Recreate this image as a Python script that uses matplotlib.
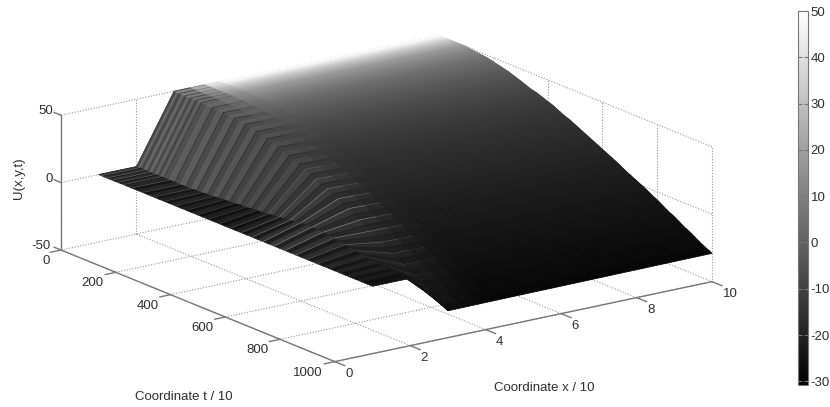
import numpy as np
import matplotlib
matplotlib.use('Agg')
import matplotlib.pyplot as plt
from matplotlib.cm import ScalarMappable
from matplotlib.colors import Normalize
from mpl_toolkits.mplot3d import proj3d

plt.rcParams['font.family'] = ['Liberation Sans', 'DejaVu Sans']
plt.rcParams['axes.unicode_minus'] = False

# rows of the surface
t_rows = [0, 10, 20, 30, 40, 50, 60, 70, 80, 90, 100,
          120, 140, 160, 180, 200, 220, 240, 260, 280, 300,
          320, 340, 360, 380, 400, 420, 440, 460, 480, 500,
          520, 540, 560, 580, 600, 620, 640, 660, 680, 700,
          720, 740, 760, 780, 800, 820, 840, 860, 880, 900,
          920, 940, 960, 980, 1000]

U_x1 = [0.0] * len(t_rows)
U_x2 = [0, 0, 0, 0, 0, 0, 0, 0, 0, 0, 0,
        0, 0, 0, 0, 0, 0.5, 0.5, 1, 1, 1.5,
        2, 2, 2.5, 3, 3, 3.5, 4, 4, 4.5, 5,
        5.5, 6, 6.5, 7, 8, 8, 8, 8, 7.5, 7,
        6.5, 6, 5, 4.5, 4, 3, 2.5, 2, 1.5, 1,
        0.5, 0.5, 0, 0, 0]
U_x3 = [50, 50, 50, 50, 50, 50, 50, 50, 50, 50, 50,
        49.5, 49.5, 49, 49, 48.5, 48, 47.5, 47, 46, 45,
        44, 43, 41.5, 40, 38.5, 37, 35.5, 34, 32, 30,
        28, 26, 24, 22, 20, 18, 16, 13.5, 11, 8.5,
        6, 3.5, 1, -1.5, -4, -6.5, -9, -11.5, -14, -16.5,
        -19, -22, -25, -27.5, -30]
U_x10 = [50, 50, 50, 50, 50, 50, 50, 50, 50, 50, 50,
         49.5, 49, 48.5, 48, 47, 46, 45, 44, 42.5, 41,
         39.5, 38, 37, 35.5, 34, 32.5, 30.5, 28.5, 27, 25,
         23, 21, 19, 17, 15, 13, 11, 9, 6.5, 4.5,
         2.5, 0.5, -1.5, -4, -6, -8.5, -11, -13, -15.5, -18,
         -20, -22.5, -25, -27, -29]

# grey levels of the picture, row by row
plain_gray = [255, 247, 236, 222, 208, 196, 185, 175, 166, 157, 149,
              137, 127, 118, 110, 103, 97, 91, 86, 81, 76,
              72, 68, 65, 61, 58, 55, 52, 50, 47, 45,
              43, 41, 39, 37, 35, 33, 31, 29, 28, 26,
              25, 23, 22, 20, 19, 17, 16, 14, 13, 11,
              10, 9, 8, 6, 5]
ramp_gray = [76, 92, 78, 96, 80, 98, 82, 94, 78, 94, 80,
             92, 76, 92, 74, 90, 72, 88, 70, 86, 68,
             82, 66, 80, 64, 76, 60, 72, 58, 68, 54,
             64, 50, 60, 46, 56, 44, 54, 42, 50, 40,
             46, 36, 42, 32, 38, 30, 34, 28, 30, 24,
             26, 20, 22, 16, 16]
floor_gray = [50, 28, 44, 24, 46, 26, 42, 22, 40, 24, 38,
              22, 38, 20, 36, 22, 34, 18, 36, 20, 32,
              18, 34, 16, 30, 18, 32, 16, 30, 18, 34,
              22, 40, 26, 50, 30, 55, 32, 55, 30, 50,
              28, 45, 26, 40, 24, 38, 22, 34, 20, 30,
              18, 26, 14, 20, 12]
line_gray = [35, 130, 40, 125, 45, 120, 40, 115, 35, 110, 40,
             105, 35, 100, 32, 95, 30, 90, 30, 85, 28,
             80, 28, 75, 26, 72, 25, 80, 25, 100, 24,
             120, 22, 140, 24, 160, 22, 170, 22, 160, 20,
             140, 24, 110, 22, 80, 20, 60, 20, 45, 20,
             35, 18, 28, 16, 20]

x_ticks = [0, 2, 4, 6, 8, 10]
t_ticks = [0, 200, 400, 600, 800, 1000]
z_ticks = [-50, 0, 50]
bar_ticks = [-30, -20, -10, 0, 10, 20, 30, 40, 50]

W, H = 830, 407
fig = plt.figure(figsize=(W / 100, H / 100), dpi=100)
ax = fig.add_axes([0, 0, H / W, 1], projection='3d', proj_type='ortho',
                  computed_zorder=False)
ax.view_init(elev=17.1, azim=-35.8)
# zoom < 1 keeps the whole box inside the axes, else it gets clipped
ax.set_box_aspect((468, 465, 141), zoom=0.6)
ax.set_xlim(0, 1000)
ax.set_ylim(0, 10)
ax.set_zlim(-50, 50)
ax.set_axis_off()


def to_pixels(t, x, z):
    vx, vy, _ = proj3d.proj_transform(t, x, z, ax.get_proj())
    return ax.transData.transform((vx, vy))


# fit the box to the picture: corner t=0,x=0 and corner t=1000,x=10 of the floor
goal_a = np.array([61.0, H - 250.0])
goal_c = np.array([712.0, H - 282.0])
p_a = to_pixels(0, 0, -50)
p_c = to_pixels(1000, 10, -50)
side = H * np.linalg.norm(goal_c - goal_a) / np.linalg.norm(p_c - p_a)
ax.set_position([0, 0, side / W, side / H])
p_a = to_pixels(0, 0, -50)
ax.set_position([(goal_a[0] - p_a[0]) / W, (goal_a[1] - p_a[1]) / H, side / W, side / H])

# dotted grid on the floor and the two back walls
grid = dict(color='#9a9a9a', lw=0.8, ls=(0, (1, 1.5)), zorder=1)
for t in t_ticks:
    ax.plot([t, t], [0, 10], [-50, -50], **grid)
    ax.plot([t, t], [10, 10], [-50, 50], **grid)
for x in x_ticks:
    ax.plot([0, 1000], [x, x], [-50, -50], **grid)
    ax.plot([0, 0], [x, x], [-50, 50], **grid)
for z in z_ticks[1:]:
    ax.plot([0, 1000], [10, 10], [z, z], **grid)
    ax.plot([0, 0], [0, 10], [z, z], **grid)

ts = np.array(t_rows, dtype=float)
u2 = np.array(U_x2, dtype=float)
u3 = np.array(U_x3, dtype=float)
u10 = np.array(U_x10, dtype=float)
plain = np.array(plain_gray, dtype=float)
ramp = np.array(ramp_gray, dtype=float)


def as_rgba(gray):
    gray = gray / 255
    return np.dstack([gray, gray, gray, np.ones_like(gray)])


# left part, x 1 to 3: one facet per row
x_left = [1, 2, 3]
T, X = np.meshgrid(ts, x_left, indexing='ij')
U_left = np.column_stack([U_x1, u2, u3])
gray = np.column_stack([floor_gray, ramp, ramp])
ax.plot_surface(T, X, U_left, facecolors=as_rgba(gray), rstride=1, cstride=1, shade=False,
                linewidth=0.5, antialiased=True, zorder=2)

# right part, x 3 to 10: the facets between the read rows are only split so
# the grey runs smoothly, they stay in the same planes
x_right = [3, 3.4, 3.8, 4.2, 10]
idx = np.arange(0, len(ts) - 1 + 0.125, 0.25)
row = np.arange(len(ts))
ts_f = np.interp(idx, row, ts)
u3_f = np.interp(idx, row, u3)
u10_f = np.interp(idx, row, u10)
plain_f = np.interp(idx, row, plain)
ramp_f = ramp[idx.astype(int)]
T, X = np.meshgrid(ts_f, x_right, indexing='ij')
U_right = np.column_stack([u3_f + (u10_f - u3_f) * (x - 3) / 7 for x in x_right])
gray = np.column_stack([0.72 * ramp_f + 0.28 * plain_f,
                        0.42 * ramp_f + 0.58 * plain_f,
                        0.14 * ramp_f + 0.86 * plain_f,
                        plain_f, plain_f])
ax.plot_surface(T, X, U_right, facecolors=as_rgba(gray), rstride=1, cstride=1, shade=False,
                linewidth=0.6, antialiased=True, zorder=2)

# zigzag mesh lines of the ramp, fading out on the plateau
for i, t in enumerate(t_rows):
    g = line_gray[i] / 255
    ax.plot([t] * 3, x_left, U_left[i], color=(g, g, g), lw=0.5, alpha=0.7, zorder=3)
    ends = (u3[i] + (u10[i] - u3[i]) * 0.4 / 7, u3[i] + (u10[i] - u3[i]) * 0.8 / 7)
    ax.plot([t, t], [3, 3.4], [u3[i], ends[0]], color=(g, g, g), lw=0.5, alpha=0.6, zorder=3)
    ax.plot([t, t], [3.4, 3.8], ends, color=(g, g, g), lw=0.5, alpha=0.3, zorder=3)

# solid axes and ticks
line = dict(color='#777777', lw=1.0, zorder=4)
ax.plot([0, 1000], [0, 0], [-50, -50], **line)
ax.plot([1000, 1000], [0, 10], [-50, -50], **line)
ax.plot([0, 0], [0, 0], [-50, 50], **line)
for t in t_ticks:
    ax.plot([t, t], [0, -0.28], [-50, -50], **line)
for x in x_ticks:
    ax.plot([1000, 1036], [x, x], [-50, -50], **line)
for z in z_ticks:
    ax.plot([0, -25], [0, 0], [z, z], **line)


def label(txt, px, py, **kw):
    # px, py are picture positions, handed to annotate as figure pixels
    ax.annotate(txt, xy=(px, H - py), xycoords='figure pixels', ha='center', va='center',
                color='#2e2e2e', fontsize=9.5, annotation_clip=False, **kw)


for t in t_ticks:
    p = to_pixels(t, 0, -50)
    dx = -15 if t == 0 else (-27 if t == 1000 else -23)
    label(str(t), p[0] + dx, H - p[1] + 11)
for x in x_ticks:
    p = to_pixels(1000, x, -50)
    label(str(x), p[0] + (18 if x == 10 else 14), H - p[1] + 12)
for z in z_ticks:
    p = to_pixels(0, 0, z)
    label(str(z), p[0] - (20 if z == -50 else 15 if z == 50 else 12), H - p[1] - 4)
label('U(x,y,t)', 19, 178, rotation=90)
label('Coordinate t / 10', 184, 397)
label('Coordinate x / 10', 544, 388)

# colorbar
cax = fig.add_axes([798 / W, (H - 385) / H, 10 / W, 374 / H])
sm = ScalarMappable(norm=Normalize(-30.8, 50), cmap='gray')
cb = fig.colorbar(sm, cax=cax, ticks=bar_ticks)
cb.outline.set_edgecolor('#777777')
cb.outline.set_linewidth(0.8)
cax.tick_params(axis='y', direction='in', left=True, right=True, length=3, width=0.8,
                color='#777777', labelcolor='#2e2e2e', labelsize=9.5, pad=2)

fig.savefig('out.png', dpi=100)
